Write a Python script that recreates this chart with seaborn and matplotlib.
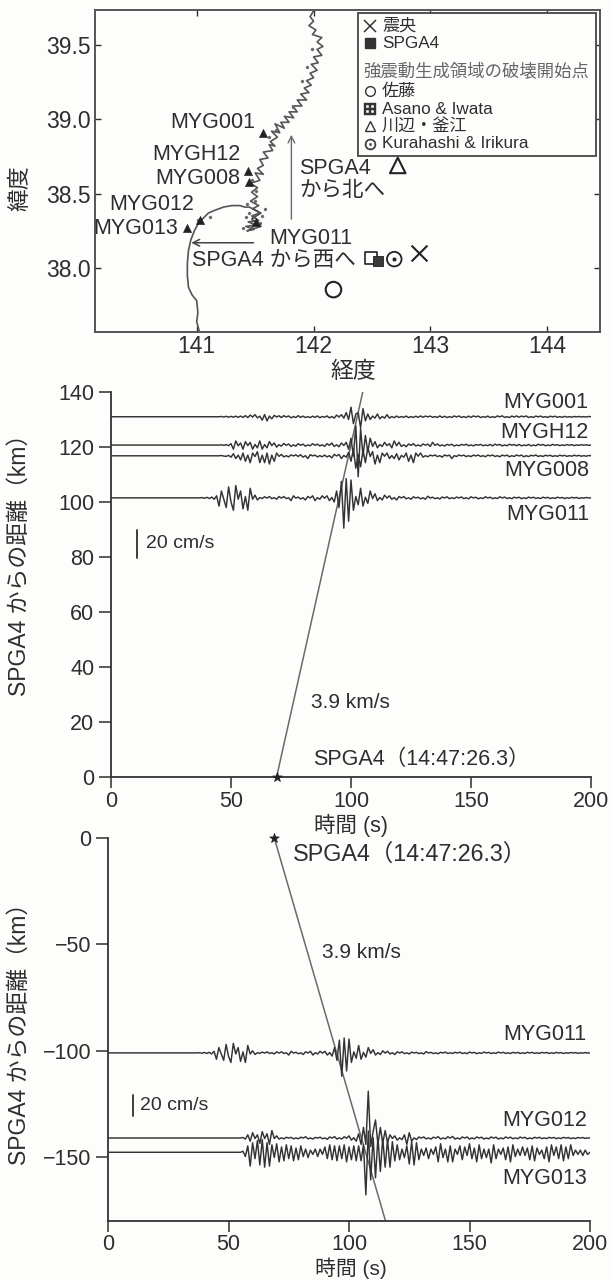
import numpy as np
import matplotlib
matplotlib.use("Agg")
import matplotlib.pyplot as plt
from matplotlib.transforms import Affine2D
from matplotlib.patches import Rectangle
from matplotlib.lines import Line2D
import seaborn as sns

# ---- map data ----
coast_lon = [142.00,141.97,142.00,141.96,142.02,141.99,142.07,142.03,142.08,142.03,142.07,142.00,142.04,141.98,142.03,141.97,
             142.00,141.94,141.98,141.92,141.96,141.89,141.94,141.86,141.90,141.82,141.86,141.79,141.83,141.75,141.79,141.72,
             141.75,141.67,141.71,141.64,141.69,141.63,141.67,141.62,141.65,141.57,141.61,141.54,141.57,141.52,141.57,141.50,
             141.54,141.46,141.52,141.47,141.52,141.46,141.53,141.48,141.54,141.47,141.53,141.44,141.51,141.42,141.49,141.43,
             141.55,141.47,141.55,141.45,141.41,141.37,141.30,141.23,141.16,141.10,141.05,141.02,140.98,
             140.95,140.93,140.92,140.92,140.93,140.96,141.00,141.01,141.00,141.02]
coast_lat = [39.73,39.69,39.66,39.63,39.60,39.57,39.55,39.52,39.49,39.47,39.43,39.42,39.38,39.37,39.33,39.31,
             39.28,39.26,39.23,39.21,39.18,39.17,39.13,39.13,39.09,39.09,39.05,39.05,39.01,39.02,38.98,38.98,
             38.94,38.97,38.91,38.92,38.88,38.85,38.82,38.83,38.79,38.78,38.74,38.73,38.69,38.67,38.63,38.64,
             38.59,38.57,38.54,38.51,38.48,38.45,38.42,38.40,38.37,38.35,38.32,38.31,38.29,38.28,38.26,38.25,
             38.28,38.33,38.37,38.41,38.41,38.42,38.42,38.41,38.39,38.37,38.33,38.31,38.25,
             38.19,38.12,38.03,37.95,37.87,37.82,37.78,37.70,37.64,37.58]
island_lon = [141.47,141.58,141.54,141.42,141.50,141.43,141.51,141.47,141.62,141.68,141.99,141.94,141.90,141.82,141.11,141.01,141.45,141.56,141.40]
island_lat = [38.28,38.40,38.30,38.34,38.45,38.43,38.52,38.59,38.88,38.93,39.47,39.35,39.26,39.08,38.34,38.32,38.37,38.35,38.27]
station_names = ["MYG001","MYGH12","MYG008","MYG012","MYG013","MYG011"]
station_lon = [141.57,141.44,141.45,141.03,140.92,141.51]
station_lat = [38.91,38.65,38.58,38.32,38.27,38.31]
epicenter = (142.90, 38.10)
spga4 = (142.55, 38.05)
sato = (142.17, 37.855)
asano = (142.49, 38.07)
kawabe = (142.72, 38.69)
kurahashi = (142.69, 38.06)

# ---- waveforms: velocity in cm/s, one sample per second from t = 30 s ----
myg001 = [
 0,0,0,0,0,0,0,0,0,0,
 0,0,0,0,0,0,.2,-.2,.3,-.3,
 .3,-.3,.4,-.4,.5,-.5,.8,-.6,1.2,-.2,
 1.5,-.8,.4,-2.5,1.6,-3,.5,-1.5,1,-.2,
 .7,-.6,.8,-.2,.6,-.8,.2,-.6,.8,-.5,
 .5,-.6,.1,-.6,.4,-.5,.6,-.7,.2,-.4,
 .6,-.8,.2,-1,1.2,-.2,1.5,-1,3,-2,
 7,-5,2,3,-8,6,-3,2,-2,.5,
 -1,2,-1.5,.2,-1,1.5,-1,.2,-.7,.5,
 -.5,.1,-.4,.5,-.6,.1,-.5,.4,-.5,.6,
 -.4,.5,-.1,.5,-.4,.1,-.5,.6,-.5,.4,
 -.6,.1,-.5,.6,-.2,.6,-.5,.1,-.6,.5,
 -.5,.6,-.1,.5,-.6,.1,-.4,.5,-.6,.1,
 -.5,.6,-.1,.7,-.5,.1,-.6,.5,-.2,.6,
 -.4,.5,-.1,.6,-.6,.1,-.5,.5,-.1,.5,
 -.4,.1,-.5,.4,-.1,.4,-.4,.1,-.4,.3,
 -.3,.1,-.3,.2,-.1,.2,-.2,.1,-.2,.2,
 0]
mygh12 = [
 0,0,0,0,0,0,0,0,0,0,
 0,0,0,0,0,0,.2,-.2,.3,-.4,
 1,-3,3,-.5,1.5,-3,2.5,-.4,2,-3,
 .5,-2,3,-3,.4,-2,2.5,-.4,1.5,-1.5,
 .3,-.8,1.2,-.2,.8,-1,.2,-.8,1,-.2,
 .7,-.8,.1,-.5,1,-.2,.7,-.6,.2,-.9,
 1,-.2,1.5,-1,.2,-1.2,1.5,-.3,2,-3,
 5,-8,14,-23,12,-8,7,-5,5,-1,
 2.5,-2,.4,-1,2,-.4,1,-2,3,-.5,
 2,-1,.2,-1.2,.8,-.2,1,-.7,.1,-.8,
 .8,-.1,.7,-1,2,-.2,.8,-.6,.1,-.7,
 .5,-.1,.6,-.7,.1,-.5,.5,-.1,.6,-.5,
 .1,-.6,.4,-.1,.5,-.5,.1,-.4,.5,-.6,
 .7,-.1,.5,-.6,.1,-.5,.6,-.1,.4,-.5,
 .5,-.6,.1,-.4,.5,-.6,.1,-.5,.6,-.1,
 .4,-.5,.1,-.4,.5,-.1,.3,-.4,.1,-.3,
 .3,-.1,.3,-.4,.1,-.2,.3,-.1,.2,-.2,
 0]
myg008 = [
 0,0,0,0,0,0,0,0,0,0,
 0,0,0,0,0,0,.2,-.2,-.4,.3,
 -1,1.5,-2,.5,-3,2,-4,.5,-5,2,
 -.5,3,-5,.5,-5,2,-6,.5,-4,2,
 -.4,1,-.8,.1,-.8,.6,-.1,.7,-.5,.8,
 -1,.1,-2,.8,-.1,.5,-.8,.1,-.7,.5,
 -.8,.1,-1.5,1,-.1,1,-2,.3,-1,2.5,
 -4,5,-9,1,-8,4,-5,6,-.5,3,
 -6,.5,-5,2,-.3,2,-2,.2,-2,1.5,
 -3,.3,-1,2,-4,.5,-5,2,-.3,2,
 -1,.1,-.7,.5,-.1,.6,-.6,.1,-1,.6,
 -.1,.5,-2,.1,-.5,.6,-.1,.5,-.6,.1,
 -.6,.5,-.1,.6,-.5,.1,-.7,.5,-.1,.6,
 -.5,.1,-.7,.5,-.1,.5,-.7,.1,-.5,.6,
 -.1,.5,-.7,.1,-.6,.4,-.1,.6,-.5,.1,
 -.5,.4,-.1,.4,-.5,.1,-.4,.4,-.1,.3,
 -.4,.1,-.3,.4,-.1,.3,-.3,.1,-.3,.2,
 0]
myg011 = [
 0,0,0,0,0,0,0,0,.2,-.3,
 .4,-.5,.6,-1,1.5,-6,5,-1,-7,8,
 -3,-9,9,-1,5,-8,1,-9,7,-1,
 2,-1.5,.2,-.5,.8,-.2,1,-.6,.2,-1,
 1,-.2,1,-.5,.1,-2,1.5,-.2,.6,-.8,
 .1,-1.5,1,-.1,1.5,-2,.2,-1,1.5,-.2,
 1.5,-2,.3,-3,5,-7,12,-22,14,-17,
 13,-9,1,-5,7,-6,.5,-4,5,-.5,
 3,-2,.3,-1.5,2,-.2,1.5,-1,.2,-1.5,
 1,-.1,1,-.7,.1,-1,.8,-.1,.5,-.7,
 .1,-1,1.2,-.1,.5,-.6,.1,-.8,.6,-.1,
 .8,-.6,.1,-.5,.6,-.1,.7,-.6,.1,-.7,
 .8,-.1,.5,-.7,.1,-.5,.8,-.1,.5,-.6,
 .1,-.5,.8,-.1,.6,-.5,.1,-.6,.5,-.1,
 .5,-.6,.1,-.5,.6,-.1,.5,-.4,.1,-.5,
 .5,-.1,.4,-.5,.1,-.4,.5,-.1,.3,-.5,
 .1,-.3,.4,-.1,.3,-.4,.1,-.2,.3,-.1,
 0]
myg012 = [
 0,0,0,0,0,0,0,0,0,0,
 0,0,0,0,0,0,0,0,0,0,
 0,0,0,0,0,0,.5,-1,3,-3,
 5,-.5,3,-5,6,-.5,4,-6,7,-.5,
 2,-1,.2,-.8,.7,-.1,.6,-.8,.1,-.7,
 .8,-.1,1.2,-.8,.1,-1,.6,-.1,.8,-.7,
 .1,-1.2,1,-.1,1.3,-1,.2,-1,1.2,-.2,
 2,-2,.3,-3,4,-6,10,-6,44,-8,
 6,17,-6,10,-5,7,-4,3,-.5,2,
 -2,.2,-1.5,3,-6,5,-3,.2,-1.5,1,
 -.1,1,-.8,.1,-1,.8,-.1,1.3,-1,.1,
 -.8,1.2,-.1,1.5,-1,.1,-1,1,-.1,1,
 -1,.1,-.8,1,-.1,.8,-1,.1,-.8,1,
 -.1,.8,-1,.1,-.8,1,-.1,.8,-.7,.1,
 -.7,.9,-.1,.7,-.8,.1,-.7,.7,-.1,.7,
 -.6,.1,-.5,.6,-.1,.5,-.6,.1,-.5,.6,
 -.1,.5,-.6,.1,-.5,.5,-.1,.5,-.4,.1,
 0]
myg013 = [
 0,0,0,0,0,0,0,0,0,0,
 0,0,0,0,0,0,0,0,0,0,
 0,0,0,0,0,0,1,-4,6,-13,
 9,-6,11,-12,12,-14,9,-13,7,-5,
 8,-9,5,-8,7,-6,6,-8,4,-7,
 6,-4,3,-5,2,-2,3,-4,3,-2,
 5,-6,7,-7,6,-8,6,-6,7,-9,
 5,-7,6,-8,6,-8,7,-40,20,-26,
 14,-24,14,-18,13,-14,12,-14,10,-8,
 7,-7,3,-5,6,-11,10,-12,9,-7,
 3,-3,4,-6,3,-2,5,-9,8,-5,
 3,-9,6,-9,3,-2,6,-7,5,-3,
 8,-6,4,-9,7,-6,3,-5,3,-10,
 7,-6,3,-2,4,-7,5,-9,7,-4,
 3,-3,5,-3,4,-7,6,-8,4,-2,
 2,-6,5,-9,7,-3,5,-6,7,-8,
 5,-6,7,-3,2,-2,2,-3,2,-2,
 0]

north_names = ["MYG001","MYGH12","MYG008","MYG011"]
north_base = [131.0,120.7,116.8,101.5]
north_wave = [myg001,mygh12,myg008,myg011]
west_names = ["MYG011","MYG012","MYG013"]
west_base = [-101.0,-141.0,-147.7]
west_wave = [myg011,myg012,myg013]
rupture_origin = 69.0
rupture_speed = 3.9
x_ticks = [0,50,100,150,200]
north_ticks = [0,20,40,60,80,100,120,140]
west_ticks = [0,-50,-100,-150]

# ---- style ----
W, H = 612, 1280
sns.set_theme(style="ticks")
plt.rcParams["font.family"] = ["Liberation Sans", "Noto Sans CJK JP"]
plt.rcParams["axes.unicode_minus"] = True
INK = "#2e2e2e"; LINE = "#333333"; GRAY = "#6a6a6a"; BG = "#fdfdfb"

fig = plt.figure(figsize=(W/100, H/100), dpi=100, facecolor=BG)
px = Affine2D().scale(1, -1).translate(0, H)

def axes_px(l, t, r, b):
    return fig.add_axes([l/W, 1-b/H, (r-l)/W, (b-t)/H], facecolor=BG)

def T(x, y, s, size=15.5, ha="left", va="center", color=INK, rot=0):
    fig.text(x/W, 1-y/H, s, fontsize=size, ha=ha, va=va, color=color, rotation=rot)

# ---- map ----
ax = axes_px(95, 10, 600, 332)
sns.lineplot(x=coast_lon, y=coast_lat, sort=False, estimator=None, color="#555555", lw=1.2, ax=ax)
sns.scatterplot(x=island_lon, y=island_lat, marker="o", s=5, color=GRAY, edgecolor=GRAY, ax=ax, zorder=3)
sns.scatterplot(x=station_lon, y=station_lat, marker="^", s=34, color="#222222", edgecolor="#222222", ax=ax, zorder=4)
sns.scatterplot(x=[epicenter[0]], y=[epicenter[1]], marker="x", s=130, color="#222222", linewidth=1.5, ax=ax, zorder=5)
sns.scatterplot(x=[asano[0]], y=[asano[1]], marker="s", s=75, facecolor=BG, edgecolor="#222222", linewidth=1.2, ax=ax, zorder=5)
sns.scatterplot(x=[spga4[0]], y=[spga4[1]], marker="s", s=60, color="#3a3a3a", edgecolor="#222222", ax=ax, zorder=6)
sns.scatterplot(x=[sato[0]], y=[sato[1]], marker="o", s=125, facecolor="none", edgecolor="#222222", linewidth=1.5, ax=ax, zorder=5)
sns.scatterplot(x=[kawabe[0]], y=[kawabe[1]], marker="^", s=125, facecolor="none", edgecolor="#222222", linewidth=1.5, ax=ax, zorder=5)
sns.scatterplot(x=[kurahashi[0]], y=[kurahashi[1]], marker="o", s=110, facecolor="none", edgecolor="#222222", linewidth=1.3, ax=ax, zorder=5)
sns.scatterplot(x=[kurahashi[0]], y=[kurahashi[1]], marker="o", s=10, color="#222222", ax=ax, zorder=5)
ax.annotate("", xy=(141.81, 38.915), xytext=(141.81, 38.31),
            arrowprops=dict(arrowstyle="->", color=GRAY, lw=1))
ax.annotate("", xy=(140.93, 38.17), xytext=(141.51, 38.17),
            arrowprops=dict(arrowstyle="->", color="#444444", lw=1.1))
ax.set_xlim(140.13, 144.45); ax.set_ylim(37.57, 39.735)
ax.set_xticks([141,142,143,144]); ax.set_yticks([38.0,38.5,39.0,39.5])
ax.set_yticklabels(["38.0","38.5","39.0","39.5"])
ax.tick_params(axis="both", direction="in", length=4, width=1, top=True, right=True, labelsize=16.5,
               colors=INK)
ax.tick_params(axis="y", pad=3)
ax.tick_params(axis="x", pad=2)
for s in ax.spines.values():
    s.set_color("#555555"); s.set_linewidth(1.4)

T(255,123,"MYG001",ha="right"); T(240,155,"MYGH12",ha="right"); T(240,179,"MYG008",ha="right")
T(194,205,"MYG012",ha="right"); T(178,229,"MYG013",ha="right"); T(269,238,"MYG011")
T(299,169,"SPGA4"); T(299,191,"から北へ"); T(192,261,"SPGA4 から西へ")
T(20,188,"緯度",size=16.5,ha="center",rot=90); T(353,371,"経度",size=16.5,ha="center")

# legend box
fig.add_artist(Rectangle((358,13),238,143,transform=px,fc=BG,ec="#444444",lw=1.3,zorder=8))
def legend_mark(y, **kw):
    fig.add_artist(Line2D([370],[y],transform=px,ls="none",color="#333333",zorder=9,**kw))
def LT(x,y,s,size=12.3,color=INK):
    fig.text(x/W,1-y/H,s,fontsize=size,ha="left",va="center",color=color,zorder=9)
legend_mark(26,marker="x",ms=8,mew=1.1); LT(382,26,"震央")
legend_mark(43,marker="s",ms=6.5); LT(382,43,"SPGA4")
LT(363,72,"強震動生成領域の破壊開始点",size=12.5,color="#666666")
legend_mark(91,marker="o",ms=7,mfc="none",mew=1); LT(382,91,"佐藤")
legend_mark(109,marker="$\u229e$",ms=8,mew=.3); LT(382,109,"Asano & Iwata")
legend_mark(126,marker="^",ms=7,mfc="none",mew=1); LT(382,126,"川辺・釜江")
legend_mark(144,marker="$\u2299$",ms=8,mew=.3); LT(382,144,"Kurahashi & Irikura")

# ---- waveform panels ----
def section(ax, bases, waves, y_pair, xtick_len, xpad):
    for base, wave in zip(bases, waves):
        t = np.r_[0, np.arange(30, 30+len(wave))]
        y = base + 0.5*np.r_[0, np.array(wave, float)]
        sns.lineplot(x=t, y=y, sort=False, estimator=None, color=LINE, lw=1.05, ax=ax, zorder=3)
    sns.lineplot(x=[rupture_origin, y_pair[1]], y=[0, y_pair[0]], sort=False, estimator=None,
                 color=GRAY, lw=1.1, ax=ax, zorder=2)
    sns.scatterplot(x=[rupture_origin], y=[0], marker="*", s=50, color="#222222", edgecolor="#222222",
                    ax=ax, zorder=5, clip_on=False)
    ax.set_xlim(0, 200)
    ax.set_xticks(x_ticks)
    sns.despine(ax=ax)
    for s in ("left","bottom"):
        ax.spines[s].set_color("#333333"); ax.spines[s].set_linewidth(1.3)
    ax.tick_params(axis="y", length=9, width=1.1, labelsize=15.5, colors=INK, pad=3)
    ax.tick_params(axis="x", length=xtick_len, width=1.1, labelsize=15.5, colors=INK, pad=xpad)
    ax.set_xlabel(""); ax.set_ylabel("")

ax2 = axes_px(111, 392, 591, 777)
section(ax2, north_base, north_wave, (140, rupture_origin+140/rupture_speed), 8, 2)
ax2.set_ylim(0, 140); ax2.set_yticks(north_ticks)
T(588,403,"MYG001",ha="right"); T(589,432,"MYGH12",ha="right"); T(589,471,"MYG008",ha="right"); T(589,515,"MYG011",ha="right")
sns.lineplot(x=[10.8,10.8], y=[79.6,89.8], color=INK, lw=1.3, ax=ax2, sort=False, estimator=None)
T(146,544,"20 cm/s",size=14)
T(311,702,"3.9 km/s",size=15)
T(313,759,"SPGA4（14:47:26.3）",size=15.5)
T(351,825,"時間 (s)",size=15.5,ha="center")
T(19,559,"SPGA4 からの距離（km）",size=16.5,ha="center",rot=90)

ax3 = axes_px(108, 838, 590, 1221)
section(ax3, west_base, west_wave, (-180, rupture_origin+180/rupture_speed), 8, 1)
ax3.set_ylim(-180, 0); ax3.set_yticks(west_ticks)
ax3.set_yticklabels(["0","\u221250","\u2212100","\u2212150"])
T(586,1035,"MYG011",ha="right"); T(587,1120,"MYG012",ha="right"); T(587,1178,"MYG013",ha="right")
sns.lineplot(x=[10.2,10.2], y=[-130.5,-120.6], color=INK, lw=1.3, ax=ax3, sort=False, estimator=None)
T(140,1106,"20 cm/s",size=14)
T(322,952,"3.9 km/s",size=15)
T(293,855,"SPGA4（14:47:26.3）",size=16.8)
T(351,1268,"時間 (s)",size=15,ha="center")
T(19,1028,"SPGA4 からの距離（km）",size=16.5,ha="center",rot=90)

fig.savefig("out.png", dpi=100, facecolor=BG)
